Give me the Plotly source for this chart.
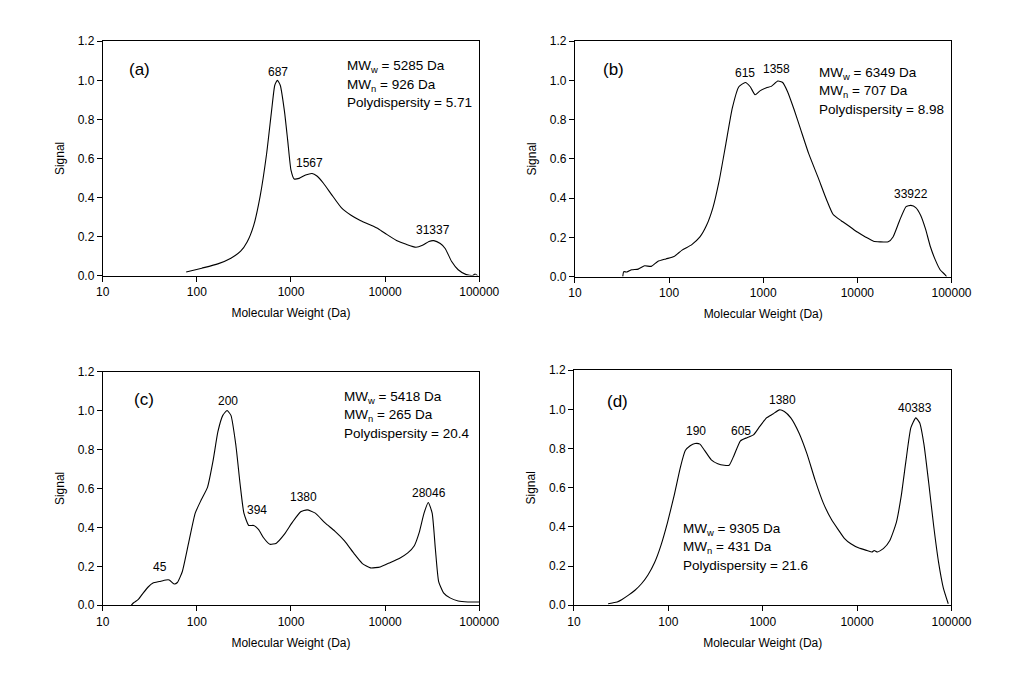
import plotly.graph_objects as go
import math

# ---------------- data ----------------
mw_a = [77, 113, 167, 230, 292, 342, 401, 470, 551, 621, 673, 717, 769, 853, 924, 1000, 1082, 1219,
        1429, 1675, 1888, 2213, 2700, 3423, 4345, 5511, 6994, 8530, 10400, 13210, 16760, 21280,
        24940, 29250, 32910, 38570, 43450, 50940, 59740, 72830, 85330, 90200, 96100]
sig_a = [0.018, 0.038, 0.06, 0.089, 0.125, 0.172, 0.256, 0.406, 0.624, 0.841, 0.975, 1.0, 0.975,
         0.841, 0.69, 0.54, 0.495, 0.498, 0.515, 0.523, 0.51, 0.473, 0.415, 0.348, 0.309, 0.281,
         0.259, 0.239, 0.211, 0.18, 0.16, 0.145, 0.155, 0.175, 0.179, 0.164, 0.139, 0.072, 0.03,
         0.005, 0.0, 0.008, 0.0]

mw_b = [32.2, 33, 35.6, 40.1, 47, 55, 64.6, 75.7, 92.4, 112.8, 137.4, 174.3, 212.7, 249.4, 292.4,
        342, 401, 470, 551, 646, 728, 820, 924, 1082, 1219, 1429, 1610, 1815, 2128, 2494, 3043,
        3855, 4700, 5511, 6733, 8209, 10000, 12190, 14860, 17420, 21280, 23940, 28060, 32910,
        37060, 41750, 47000, 52970, 59740, 67320, 75710, 85330, 88770]
sig_b = [0.0, 0.025, 0.023, 0.035, 0.038, 0.055, 0.052, 0.077, 0.09, 0.102, 0.135, 0.163, 0.202,
         0.26, 0.352, 0.493, 0.677, 0.86, 0.968, 0.99, 0.968, 0.927, 0.947, 0.963, 0.97, 0.997,
         0.99, 0.943, 0.852, 0.752, 0.627, 0.502, 0.393, 0.318, 0.285, 0.257, 0.227, 0.202, 0.18,
         0.177, 0.177, 0.202, 0.285, 0.357, 0.363, 0.352, 0.313, 0.243, 0.152, 0.085, 0.035, 0.01,
         0.0]

mw_c = [20.1, 21.3, 23.9, 27, 30.4, 34.2, 40.1, 47, 50.9, 57.4, 62.1, 70, 82, 96.1, 111, 130,
        148.6, 167.4, 188.7, 209.4, 230.3, 259.4, 287.8, 316.2, 356.4, 401, 451.6, 509, 597, 699.5,
        853, 1041, 1268, 1486, 1815, 2301, 2922, 3705, 4700, 5738, 6994, 8872, 11270, 14290,
        17420, 20430, 23010, 25920, 28750, 31620, 34200, 37060, 41750, 48930, 59740, 75710, 100000]
sig_c = [0.0, 0.013, 0.03, 0.064, 0.094, 0.114, 0.122, 0.13, 0.13, 0.109, 0.117, 0.172, 0.323,
         0.473, 0.54, 0.607, 0.741, 0.891, 0.975, 1.0, 0.975, 0.824, 0.624, 0.473, 0.41, 0.41, 0.39,
         0.348, 0.313, 0.319, 0.365, 0.428, 0.48, 0.49, 0.473, 0.423, 0.381, 0.331, 0.264, 0.214,
         0.192, 0.197, 0.219, 0.242, 0.269, 0.306, 0.373, 0.473, 0.528, 0.473, 0.289, 0.122, 0.064,
         0.038, 0.022, 0.017, 0.017]

mw_d = [23, 25.5, 28.7, 32.3, 37.8, 44.3, 51.9, 60.8, 71.3, 83.5, 97.9, 114.6, 134.3, 151.2, 170.3,
        191.9, 216, 243, 285, 334, 391, 440.5, 496, 581, 681, 798, 935, 1096, 1284, 1504, 1694,
        1984, 2417, 2945, 3591, 4377, 5335, 6252, 7326, 8587, 10470, 12770, 14370, 15180, 16440,
        18970, 22230, 26020, 29300, 32980, 37150, 41870, 46030, 51050, 57460, 64740, 72860, 82050,
        92470]
sig_d = [0.008, 0.012, 0.017, 0.03, 0.052, 0.077, 0.11, 0.155, 0.217, 0.306, 0.422, 0.556, 0.706,
         0.79, 0.815, 0.826, 0.823, 0.79, 0.743, 0.723, 0.715, 0.715, 0.765, 0.84, 0.856, 0.87,
         0.915, 0.957, 0.977, 0.998, 0.99, 0.957, 0.881, 0.773, 0.639, 0.523, 0.439, 0.389, 0.342,
         0.314, 0.292, 0.28, 0.272, 0.28, 0.272, 0.289, 0.331, 0.422, 0.556, 0.74, 0.907, 0.957,
         0.932, 0.823, 0.623, 0.406, 0.222, 0.088, 0.008]

panel_tags = ["(a)", "(b)", "(c)", "(d)"]

# peak labels: (text, MW position, signal position)
peaks_a = [("687", 734, 1.045), ("1567", 1585, 0.578), ("31337", 32600, 0.232)]
peaks_b = [("615", 646, 1.037), ("1358", 1374, 1.058), ("33922", 37600, 0.422)]
peaks_c = [("45", 41, 0.198), ("200", 213, 1.047), ("394", 434, 0.488), ("1380", 1349, 0.558),
           ("28046", 29100, 0.575)]
peaks_d = [("190", 197, 0.892), ("605", 582, 0.892), ("1380", 1603, 1.047), ("40383", 41300, 1.008)]

mww = ["5285", "6349", "5418", "9305"]
mwn = ["926", "707", "265", "431"]
pdi = ["5.71", "8.98", "20.4", "21.6"]

x_tickvals = [10, 100, 1000, 10000, 100000]
x_ticktext = ["10", "100", "1000", "10000", "100000"]
y_tickvals = [0.0, 0.2, 0.4, 0.6, 0.8, 1.0, 1.2]

# ---------------- layout positions ----------------
W, H = 1026, 673
FONT = "Arial, Liberation Sans, sans-serif"

def dom_x(a, b):
    return [a / W, b / W]

def dom_y(top, bottom):
    return [1 - bottom / H, 1 - top / H]

x_domains = [dom_x(98.3, 485), dom_x(583.3, 970), dom_x(98.3, 485), dom_x(582.3, 970)]
y_domains = [dom_y(35, 274.3), dom_y(35, 275.3), dom_y(372.3, 611), dom_y(371, 611)]

tag_pos = [(1.39, 1.055), (1.414, 1.054), (1.4425, 1.057), (1.458, 1.039)]
info_pos = [(3.572, [1.07, 0.975, 0.884]), (3.575, [1.034, 0.945, 0.85]),
            (3.541, [1.069, 0.974, 0.881]), (2.139, [0.389, 0.297, 0.205])]

fig = go.Figure()
series = [(mw_a, sig_a, peaks_a), (mw_b, sig_b, peaks_b), (mw_c, sig_c, peaks_c), (mw_d, sig_d, peaks_d)]

annotations = []
for i, (mw, sig, peaks) in enumerate(series):
    n = "" if i == 0 else str(i + 1)
    xa, ya = "x" + n, "y" + n
    fig.add_trace(go.Scatter(x=mw, y=sig, mode="lines", xaxis=xa, yaxis=ya,
                             line=dict(color="black", width=1.1, shape="spline", smoothing=0.5),
                             showlegend=False, hoverinfo="x+y"))
    axis_common = dict(showline=True, linecolor="black", linewidth=1, mirror=True,
                       ticks="outside", ticklen=5, tickcolor="black", tickwidth=1,
                       showgrid=False, zeroline=False,
                       tickfont=dict(family=FONT, size=12, color="black"))
    fig.update_layout(**{
        "xaxis" + n: dict(type="log", range=[1, 5], domain=x_domains[i], anchor=ya,
                          tickvals=x_tickvals, ticktext=x_ticktext,
                          title=dict(text="Molecular Weight (Da)", standoff=10,
                                     font=dict(family=FONT, size=12, color="black")),
                          **axis_common),
        "yaxis" + n: dict(range=[0, 1.2], domain=y_domains[i], anchor=xa,
                          tickvals=y_tickvals, tickformat=".1f",
                          title=dict(text="Signal", standoff=10,
                                     font=dict(family=FONT, size=12, color="black")),
                          **axis_common),
    })
    annotations.append(dict(x=tag_pos[i][0], y=tag_pos[i][1], xref=xa, yref=ya, text=panel_tags[i],
                            showarrow=False, xanchor="center", yanchor="middle",
                            font=dict(family=FONT, size=17, color="black")))
    for txt, px, py in peaks:
        annotations.append(dict(x=math.log10(px), y=py, xref=xa, yref=ya, text=txt,
                                showarrow=False, xanchor="center", yanchor="middle",
                                font=dict(family=FONT, size=12, color="black")))
    lines = ["MW<sub>w</sub> = %s Da" % mww[i], "MW<sub>n</sub> = %s Da" % mwn[i],
             "Polydispersity = %s" % pdi[i]]
    ix, iys = info_pos[i]
    for line, yy in zip(lines, iys):
        annotations.append(dict(x=ix, y=yy, xref=xa, yref=ya, text=line, showarrow=False,
                                xanchor="left", yanchor="middle",
                                font=dict(family=FONT, size=13.5, color="black")))

fig.update_layout(width=W, height=H, margin=dict(l=0, r=0, t=0, b=0),
                  paper_bgcolor="white", plot_bgcolor="white",
                  font=dict(family=FONT, size=12, color="black"),
                  annotations=annotations)

fig.write_html("out.html",
               config=dict(responsive=False, displayModeBar=False),
               post_script="document.documentElement.style.margin='0';"
                           "document.body.style.margin='0';"
                           "document.body.style.overflow='hidden';")
